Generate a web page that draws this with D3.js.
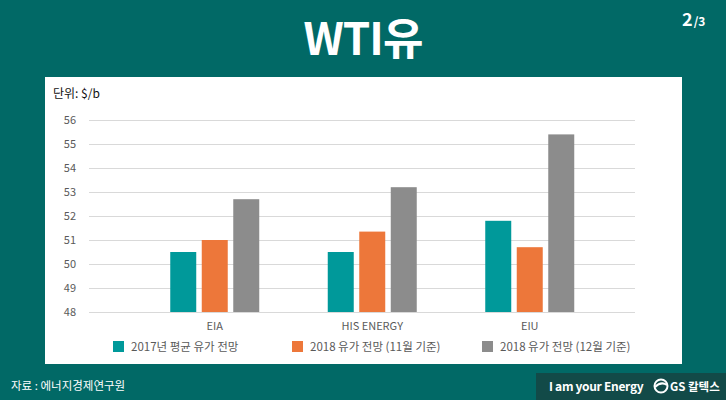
<!DOCTYPE html>
<html>
<head>
<meta charset="utf-8">
<script src="https://cdn.jsdelivr.net/npm/d3@7"></script>
<style>
  body { margin: 0; background: #016966; }
  svg { display: block; font-family: "Noto Sans CJK KR", "Noto Sans", sans-serif; }
</style>
</head>
<body>
<svg width="726" height="400"></svg>
<script>
// data
var categories = ["EIA", "HIS ENERGY", "EIU"];
var seriesNames = ["2017년 평균 유가 전망", "2018 유가 전망 (11월 기준)", "2018 유가 전망 (12월 기준)"];
var avg2017 = [50.5, 50.5, 51.8];
var nov2018 = [51.0, 51.35, 50.7];
var dec2018 = [52.7, 53.2, 55.4];
var yTicks = [48, 49, 50, 51, 52, 53, 54, 55, 56];
var colors = ["#00999a", "#ed773a", "#8c8c8c"];

var series = [avg2017, nov2018, dec2018];

var svg = d3.select("svg");

// background
svg.append("rect").attr("width", 726).attr("height", 400).attr("fill", "#016966");

// title
svg.append("text")
    .attr("x", 363).attr("y", 55)
    .attr("text-anchor", "middle")
    .attr("fill", "#fff")
    .attr("font-size", 44)
    .attr("font-weight", "bold")
    .attr("letter-spacing", -1)
    .text("WTI유");

// page number
var pg = svg.append("text")
    .attr("x", 682).attr("y", 26)
    .attr("fill", "#fff")
    .attr("font-weight", "bold");
pg.append("tspan").attr("font-size", 18).text("2");
pg.append("tspan").attr("font-size", 12).attr("dx", 1).text("/3");

// white panel
svg.append("rect")
    .attr("x", 45).attr("y", 77)
    .attr("width", 637).attr("height", 287)
    .attr("fill", "#fff");

svg.append("text")
    .attr("x", 53).attr("y", 98)
    .attr("font-size", 12)
    .attr("fill", "#111")
    .text("단위: $/b");

// scales
var y = d3.scaleLinear().domain([48, 56]).range([312, 120]);
var x0 = d3.scaleBand().domain(categories).range([136, 608.5]);
var x1 = d3.scaleBand().domain(d3.range(3)).range([-44.5, 44.5]).paddingInner(0.175);

// gridlines
svg.append("g")
  .selectAll("line")
  .data(yTicks)
  .enter().append("line")
    .attr("x1", 89).attr("x2", 635)
    .attr("y1", function(d) { return y(d) + 0.5; })
    .attr("y2", function(d) { return y(d) + 0.5; })
    .attr("stroke", "#d9d9d9")
    .attr("stroke-width", 1);

// y labels
svg.append("g")
  .selectAll("text")
  .data(yTicks)
  .enter().append("text")
    .attr("x", 76)
    .attr("y", function(d) { return y(d) + 4; })
    .attr("text-anchor", "end")
    .attr("font-size", 11)
    .attr("fill", "#595959")
    .text(function(d) { return d; });

// bars
var groups = svg.append("g")
  .selectAll("g")
  .data(categories)
  .enter().append("g")
    .attr("transform", function(d) { return "translate(" + (x0(d) + x0.bandwidth() / 2) + ",0)"; });

groups.selectAll("rect")
  .data(function(d, i) { return series.map(function(s, k) { return { k: k, v: s[i] }; }); })
  .enter().append("rect")
    .attr("x", function(d) { return x1(d.k); })
    .attr("width", x1.bandwidth())
    .attr("y", function(d) { return y(d.v); })
    .attr("height", function(d) { return y(48) - y(d.v); })
    .attr("fill", function(d) { return colors[d.k]; });

// category labels
svg.append("g")
  .selectAll("text")
  .data(categories)
  .enter().append("text")
    .attr("x", function(d) { return x0(d) + x0.bandwidth() / 2; })
    .attr("y", 330)
    .attr("text-anchor", "middle")
    .attr("font-size", 11)
    .attr("fill", "#595959")
    .text(function(d) { return d; });

// legend
var legendX = [113, 292, 482];
var lg = svg.append("g")
  .selectAll("g")
  .data(seriesNames)
  .enter().append("g")
    .attr("transform", function(d, i) { return "translate(" + legendX[i] + ",341)"; });
lg.append("rect")
    .attr("width", 11).attr("height", 11)
    .attr("fill", function(d, i) { return colors[i]; });
lg.append("text")
    .attr("x", 18).attr("y", 10)
    .attr("font-size", 11.5)
    .attr("fill", "#595959")
    .text(function(d) { return d; });

// footer
svg.append("text")
    .attr("x", 11).attr("y", 390)
    .attr("font-size", 11.5)
    .attr("fill", "#fff")
    .text("자료 : 에너지경제연구원");

svg.append("rect")
    .attr("x", 536).attr("y", 373)
    .attr("width", 190).attr("height", 27)
    .attr("fill", "#124a48");
svg.append("text")
    .attr("x", 549).attr("y", 391)
    .attr("font-size", 12)
    .attr("font-weight", "bold")
    .attr("fill", "#fff")
    .attr("letter-spacing", -0.3)
    .text("I am your Energy");
// small GS mark
svg.append("circle")
    .attr("cx", 661).attr("cy", 386).attr("r", 6.5)
    .attr("fill", "none").attr("stroke", "#fff").attr("stroke-width", 2);
svg.append("path")
    .attr("d", "M655,387 Q661,381 667,385")
    .attr("fill", "none").attr("stroke", "#fff").attr("stroke-width", 2);
svg.append("text")
    .attr("x", 670).attr("y", 391)
    .attr("font-size", 11.5)
    .attr("font-weight", "bold")
    .attr("fill", "#fff")
    .text("GS 칼텍스");
</script>
</body>
</html>
